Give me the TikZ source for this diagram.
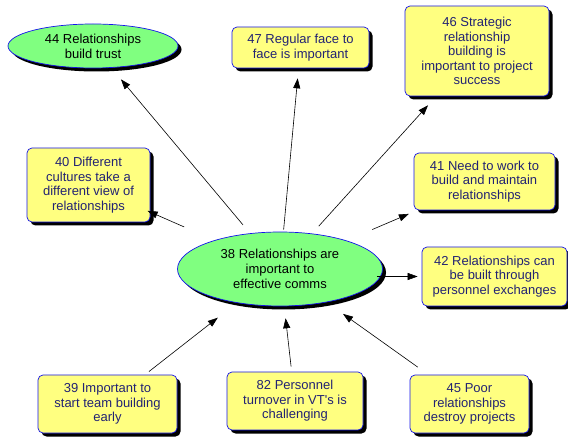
\documentclass[tikz,border=0pt]{standalone}
\usepackage{fontspec}
\setmainfont{Liberation Sans}[Ligatures=TeXOff]
\usetikzlibrary{arrows.meta,shapes.geometric,shadows}
\definecolor{notefill}{RGB}{255,255,128}
\definecolor{hubfill}{RGB}{128,255,128}
\definecolor{rimblue}{RGB}{20,20,235}
\definecolor{noteink}{RGB}{35,35,115}
\tikzset{
  shadowed/.style = {drop shadow={shadow xshift=3.5pt,shadow yshift=-3.5pt,fill=black,opacity=1}},
  note/.style     = {shadowed, draw=rimblue, fill=notefill, rounded corners=5pt, line width=0.7pt,
                     text=noteink, align=center, inner sep=0pt, font=\fontsize{13}{14.5}\selectfont},
  bubble/.style   = {shadowed, ellipse, draw=rimblue, fill=hubfill, line width=0.7pt,
                     align=center, inner sep=0pt, font=\fontsize{13}{15}\selectfont},
  link/.style     = {-{Triangle[length=10pt,width=7pt]}, line width=0.6pt}
}

\begin{document}
\begin{tikzpicture}[x=1pt,y=-1pt]
  \useasboundingbox (0,0) rectangle (568,438);
  % the hub
  \node[bubble,minimum width=205,minimum height=74] (n38) at (280,269)
       {38 Relationships are\\important to\\effective comms};
  % statements round the hub
  \node[bubble,minimum width=170,minimum height=44] (n44) at (93,46)
       {44 Relationships\\build trust};
  \node[note,minimum width=137,minimum height=41] (n47) at (300.5,47.5)
       {47 Regular face to\\face is important};
  \node[note,minimum width=144,minimum height=90] (n46) at (477,51)
       {46 Strategic\\relationship\\building is\\important to project\\success};
  \node[note,minimum width=123,minimum height=74] (n40) at (88.5,185)
       {40 Different\\cultures take a\\different view of\\relationships};
  \node[note,minimum width=141,minimum height=57] (n41) at (484.5,181.5)
       {41 Need to work to\\build and maintain\\relationships};
  \node[note,minimum width=145,minimum height=59] (n42) at (494.5,276.5)
       {42 Relationships can\\be built through\\personnel exchanges};
  \node[note,minimum width=139,minimum height=58] (n39) at (107.5,404)
       {39 Important to\\start team building\\early};
  \node[note,minimum width=136,minimum height=58] (n82) at (295,401)
       {82 Personnel\\turnover in VT's is\\challenging};
  \node[note,minimum width=119,minimum height=58] (n45) at (469.5,404)
       {45 Poor\\relationships\\destroy projects};
  % outgoing links
  \draw[link,shorten <=11pt,shorten >=15pt] (n38) -- (n44);
  \draw[link,shorten <=2pt,shorten >=10pt] (n38) -- (n47);
  \draw[link,shorten <=10pt,shorten >=12pt] (n38) -- (n46);
  \draw[link,shorten <=33pt,shorten >=-3pt] (n38) -- (n40);
  \draw[link,shorten <=28pt,shorten >=9pt] (n38) -- (n41);
  \draw[link,shorten <=-6pt,shorten >=4pt] (n38.east |- n42) -- (n42);
  % incoming links
  \draw[link,shorten <=5pt,shorten >=24pt] (n39) -- (n38);
  \draw[link,shorten <=5pt,shorten >=12pt] (n82) -- (n38);
  \draw[link,shorten <=13pt,shorten >=20pt] (n45) -- (n38);
\end{tikzpicture}
\end{document}
